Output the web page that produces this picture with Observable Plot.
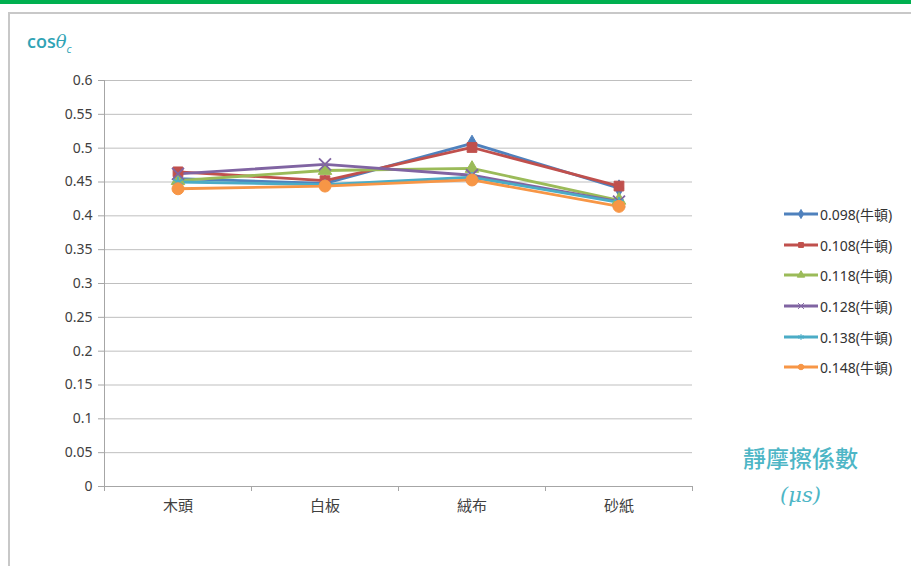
<!DOCTYPE html>
<html><head><meta charset="utf-8">
<script src="https://cdn.jsdelivr.net/npm/d3@7"></script>
<script src="https://cdn.jsdelivr.net/npm/@observablehq/plot@0.6"></script>
<style>
body{margin:0;background:#fff;font-family:"Noto Sans","Noto Sans CJK TC",sans-serif;}
#wrap{position:relative;width:911px;height:566px;overflow:hidden;}
#bar{position:absolute;left:0;top:0;width:911px;height:4px;background:#00B050;}
#frame{position:absolute;left:8px;top:12px;width:920px;height:600px;border:2px solid #c8c8c8;box-sizing:border-box;}
#chart{position:absolute;left:0;top:0;}
#title{position:absolute;left:27px;top:29px;color:#2fa3b5;font-size:18px;font-weight:600;font-family:"Open Sans",sans-serif;}
#title i{font-family:"DejaVu Serif",serif;font-weight:normal;}
#title sub{font-size:11px;font-style:italic;font-weight:normal;}
#xname{position:absolute;left:728px;top:440px;width:145px;text-align:center;color:#4db6c6;font-size:23px;font-family:"Noto Sans CJK TC",serif;line-height:35px;font-weight:500;}
#xname .mu{font-family:"DejaVu Serif",serif;font-style:italic;font-weight:normal;font-size:21px;}
#legend{position:absolute;left:783px;top:199px;font-size:14px;color:#333;font-family:"Noto Sans","Noto Sans CJK TC",sans-serif;}
#legend div{height:30.6px;display:flex;align-items:center;}
#legend svg{margin-right:1px;}
</style></head><body>
<div id="wrap">
<div id="bar"></div>
<div id="frame"></div>
<div id="chart"></div>
<div id="title">cos<i>θ</i><sub>c</sub></div>
<div id="xname">靜摩擦係數<br><span class="mu">(μs)</span></div>
<div id="legend"></div>
</div>
<script>
const categories = ["木頭", "白板", "絨布", "砂紙"];
const seriesNames = ["0.098(牛頓)", "0.108(牛頓)", "0.118(牛頓)", "0.128(牛頓)", "0.138(牛頓)", "0.148(牛頓)"];
const s098 = [0.455, 0.448, 0.507, 0.441];
const s108 = [0.465, 0.452, 0.501, 0.444];
const s118 = [0.452, 0.467, 0.470, 0.423];
const s128 = [0.462, 0.476, 0.460, 0.421];
const s138 = [0.450, 0.446, 0.457, 0.420];
const s148 = [0.440, 0.444, 0.453, 0.414];
const yTicks = [0, 0.05, 0.1, 0.15, 0.2, 0.25, 0.3, 0.35, 0.4, 0.45, 0.5, 0.55, 0.6];

const seriesValues = [s098, s108, s118, s128, s138, s148];
const colors = ["#4F81BD", "#C0504D", "#9BBB59", "#8064A2", "#4BACC6", "#F79646"];
const symbols = ["diamond", "square", "triangle", "times", "asterisk", "circle"];
const sizes = [5, 5.5, 5, 5.5, 5, 6];

const rows = [];
seriesValues.forEach((vals, si) => vals.forEach((v, ci) => rows.push({series: seriesNames[si], si, ci, v})));

const gray = "#a6a6a6";
const boundaries = [-0.5, 0.5, 1.5, 2.5, 3.5];

const marks = [
  Plot.ruleY(yTicks.filter(d => d > 0), {stroke: "#bfbfbf", strokeWidth: 1}),
  Plot.axisY({ticks: yTicks, tickSize: 6, tickPadding: 6, stroke: gray, label: null, tickFormat: d => String(+d.toFixed(2)), fontSize: 14, color: "#404040"}),
  Plot.axisX({ticks: boundaries, tickSize: 5, tickFormat: () => "", label: null, stroke: gray}),
  Plot.axisX({ticks: [0, 1, 2, 3], tickSize: 0, tickPadding: 14, label: null, tickFormat: i => categories[i], fontSize: 15, color: "#404040"}),
  Plot.ruleY([0], {stroke: gray}),
  Plot.ruleX([-0.5], {stroke: gray})
];
seriesValues.forEach((vals, si) => {
  const data = rows.filter(r => r.si === si);
  marks.push(Plot.line(data, {x: "ci", y: "v", stroke: colors[si], strokeWidth: 2.8}));
});
seriesValues.forEach((vals, si) => {
  const data = rows.filter(r => r.si === si);
  const stroked = symbols[si] === "times" || symbols[si] === "asterisk";
  marks.push(Plot.dot(data, {x: "ci", y: "v", symbol: () => symbols[si], r: sizes[si],
    fill: stroked ? "none" : colors[si], stroke: colors[si], strokeWidth: stroked ? 1.8 : 1}));
});

const chart = Plot.plot({
  width: 911, height: 566,
  marginLeft: 104, marginRight: 219, marginTop: 80, marginBottom: 80,
  style: {background: "transparent", fontFamily: "'Noto Sans','Noto Sans CJK TC',sans-serif"},
  x: {type: "linear", domain: [-0.5, 3.5], axis: null, label: null},
  y: {domain: [0, 0.6], axis: null, label: null},
  symbol: {type: "identity"},
  marks
});
document.getElementById("chart").appendChild(chart);

const symMap = {diamond: d3.symbolDiamond, square: d3.symbolSquare, triangle: d3.symbolTriangle, times: d3.symbolTimes, asterisk: d3.symbolAsterisk, circle: d3.symbolCircle};
const leg = document.getElementById("legend");
seriesNames.forEach((name, i) => {
  const div = document.createElement("div");
  const sym = d3.symbol(symMap[symbols[i]], 24)();
  const stroked = symbols[i] === "times" || symbols[i] === "asterisk";
  div.innerHTML = `<svg width="36" height="14"><line x1="1" x2="35" y1="7" y2="7" stroke="${colors[i]}" stroke-width="2.8"/>` +
    `<path transform="translate(18,7)" d="${sym}" fill="${stroked ? "none" : colors[i]}" stroke="${colors[i]}" stroke-width="1"/></svg><span>${name}</span>`;
  leg.appendChild(div);
});
</script>
</body></html>
